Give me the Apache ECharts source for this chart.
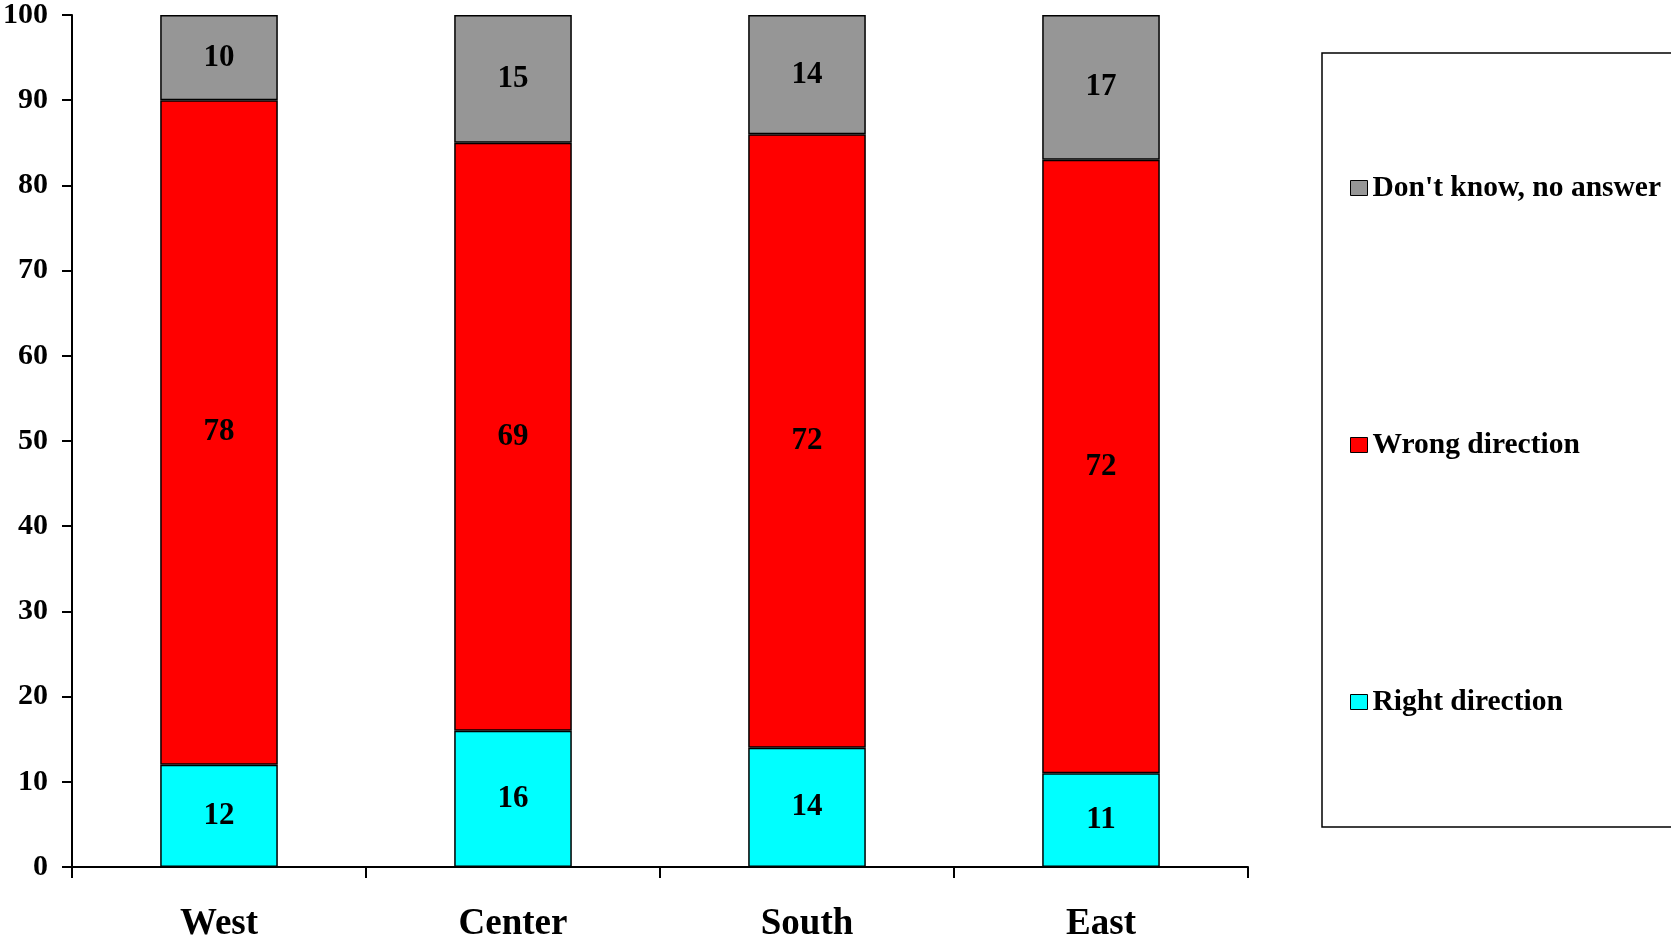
<!DOCTYPE html>
<html>
<head>
<meta charset="utf-8">
<style>html,body{margin:0;padding:0;background:#fff;}#chart{width:1671px;height:940px;}</style>
<script src="https://cdn.jsdelivr.net/npm/echarts@6/dist/echarts.min.js"></script>
</head>
<body>
<div id="chart"></div>
<script>
const categories = ['West', 'Center', 'South', 'East'];
const rightDirection = [12, 16, 14, 11];
const wrongDirection = [78, 69, 72, 72];
const dontKnow = [10, 15, 14, 17];
const seriesNames = ['Right direction', 'Wrong direction', "Don't know, no answer"];
const yTicks = { min: 0, max: 100, interval: 10 };

const FONT = '"Liberation Serif", "Times New Roman", serif';
const chart = echarts.init(document.getElementById('chart'));

function barSeries(name, data, color) {
  return {
    name: name,
    type: 'bar',
    stack: 'total',
    data: data,
    barWidth: '40%',
    itemStyle: { color: color, borderColor: '#000', borderWidth: 1.5 },
    label: {
      show: true, position: 'inside', color: '#000',
      fontFamily: FONT, fontWeight: 'bold', fontSize: 31
    },
    emphasis: { disabled: true }
  };
}

chart.setOption({
  animation: false,
  backgroundColor: '#fff',
  grid: { left: 72, right: 423, top: 15, bottom: 73, containLabel: false, outerBoundsMode: 'none' },
  xAxis: {
    type: 'category',
    data: categories,
    axisLine: { lineStyle: { color: '#000', width: 2 } },
    axisTick: { show: true, length: 11, lineStyle: { color: '#000', width: 2 } },
    axisLabel: { color: '#000', fontFamily: FONT, fontWeight: 'bold', fontSize: 37, margin: 39 }
  },
  yAxis: {
    type: 'value',
    min: yTicks.min, max: yTicks.max, interval: yTicks.interval,
    splitLine: { show: false },
    axisLine: { show: true, lineStyle: { color: '#000', width: 2 } },
    axisTick: { show: true, length: 10, lineStyle: { color: '#000', width: 2 } },
    axisLabel: { color: '#000', fontFamily: FONT, fontWeight: 'bold', fontSize: 30, margin: 24 }
  },
  legend: {
    orient: 'vertical',
    left: 1345,
    top: 168,
    icon: 'rect',
    itemWidth: 17,
    itemHeight: 15,
    itemGap: 227,
    data: [seriesNames[2], seriesNames[1], seriesNames[0]],
    textStyle: { color: '#000', fontFamily: FONT, fontWeight: 'bold', fontSize: 29.5, lineHeight: 30 },
    itemStyle: { borderColor: '#000', borderWidth: 1 },
    selectedMode: false
  },
  graphic: [{
    type: 'rect',
    shape: { x: 1322, y: 53, width: 400, height: 774 },
    style: { fill: 'none', stroke: '#000', lineWidth: 1.5 },
    z: 0
  }],
  series: [
    barSeries(seriesNames[0], rightDirection, '#00FFFF'),
    barSeries(seriesNames[1], wrongDirection, '#FF0000'),
    barSeries(seriesNames[2], dontKnow, '#969696')
  ]
});
</script>
</body>
</html>
